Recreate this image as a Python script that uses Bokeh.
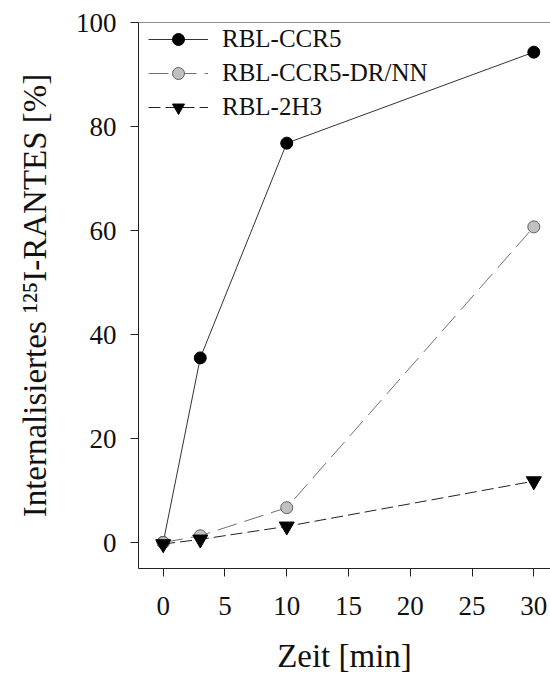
from bokeh.plotting import figure
from bokeh.models import Range1d, Span, Legend, LegendItem, FixedTicker
from bokeh.embed import file_html
from bokeh.resources import INLINE

# Data
time_min = [0, 3, 10, 30]
rbl_ccr5 = [0.0, 35.5, 76.8, 94.3]
rbl_ccr5_drnn = [0.0, 1.3, 6.7, 60.7]
rbl_2h3 = [-0.3, 0.6, 3.1, 11.8]

x_ticks = [0, 5, 10, 15, 20, 25, 30]
y_ticks = [0, 20, 40, 60, 80, 100]

FONT = "Liberation Serif"

p = figure(width=550, height=676, output_backend="svg", toolbar_location=None,
           x_range=Range1d(-2, 31.35), y_range=Range1d(-5, 100),
           min_border_left=138, min_border_right=0, min_border_top=22,
           min_border_bottom=108)

p.outline_line_color = None
p.xgrid.visible = False
p.ygrid.visible = False
p.background_fill_color = "white"
p.border_fill_color = "white"

for ax in (p.xaxis[0], p.yaxis[0]):
    ax.axis_line_color = "#222222"
    ax.major_tick_line_color = "#222222"
    ax.major_tick_out = 8
    ax.major_tick_in = 0
    ax.minor_tick_line_color = None
    ax.major_label_text_font = FONT
    ax.major_label_text_font_size = "27px"
    ax.major_label_text_color = "#111111"
    ax.axis_label_text_font = FONT
    ax.axis_label_text_font_size = "33px"
    ax.axis_label_text_font_style = "normal"
    ax.axis_label_text_color = "#111111"

p.xaxis.ticker = FixedTicker(ticks=x_ticks)
p.yaxis.ticker = FixedTicker(ticks=y_ticks)
p.xaxis.axis_label = "Zeit [min]"
p.yaxis.axis_label = "Internalisiertes \u00b9\u00b2\u2075I-RANTES [%]"
p.xaxis.major_label_standoff = 20
p.yaxis.major_label_standoff = 14
p.xaxis.axis_label_standoff = 20
p.yaxis.axis_label_standoff = 20

# top frame line
p.add_layout(Span(location=100, dimension="width", line_color="#222222", line_width=1))

l1 = p.line(time_min, rbl_ccr5, line_color="#333333", line_width=1)
s1 = p.scatter(time_min, rbl_ccr5, marker="circle", size=12,
               fill_color="black", line_color="black")

l2 = p.line(time_min, rbl_ccr5_drnn, line_color="#707070", line_width=1, line_dash="20 8")
s2 = p.scatter(time_min, rbl_ccr5_drnn, marker="circle", size=12,
               fill_color="#c0c0c0", line_color="#606060")

l3 = p.line(time_min, rbl_2h3, line_color="#222222", line_width=1, line_dash="12 5")
s3 = p.scatter(time_min, rbl_2h3, marker="inverted_triangle", size=15,
               fill_color="black", line_color="black")

legend = Legend(items=[
    LegendItem(label="RBL-CCR5", renderers=[l1, s1]),
    LegendItem(label="RBL-CCR5-DR/NN", renderers=[l2, s2]),
    LegendItem(label="RBL-2H3", renderers=[l3, s3]),
], location=(10, 446), orientation="vertical")
legend.border_line_color = None
legend.background_fill_alpha = 0
legend.padding = 0
legend.margin = 0
legend.spacing = 4
legend.glyph_width = 60
legend.glyph_height = 30
legend.label_height = 30
legend.label_standoff = 14
legend.label_text_font = FONT
legend.label_text_font_size = "25px"
legend.label_text_color = "#111111"
p.add_layout(legend)

open("out.html", "w").write(file_html(p, INLINE))
